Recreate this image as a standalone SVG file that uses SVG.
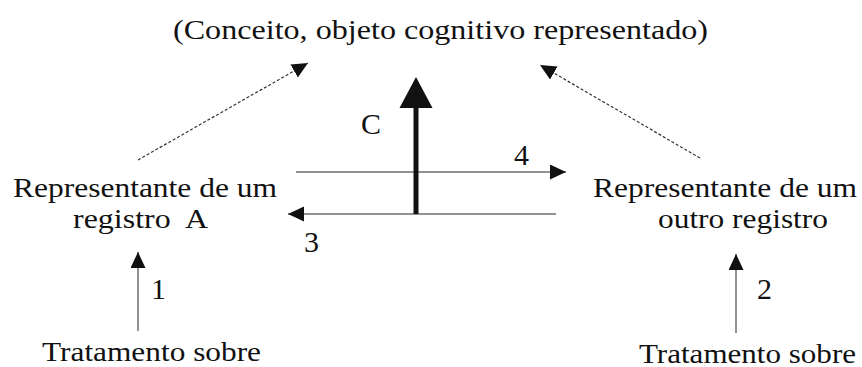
<svg xmlns="http://www.w3.org/2000/svg" width="862" height="367" viewBox="0 0 862 367">
<style>
  .t { font-size: 28px; }
  .lbl { font-size: 30px; }
  .thin { stroke: #6e6e6e; stroke-width: 1.5; fill: none; }
  .dash { stroke: #333; stroke-width: 1.2; stroke-dasharray: 3 2; fill: none; }
</style>
<defs>
  <marker id="ah" markerUnits="userSpaceOnUse" markerWidth="17" markerHeight="16" refX="16" refY="7.5" orient="auto">
    <path d="M0,0 L16,7.5 L0,15 Z" fill="#111"/>
  </marker>
</defs>
<rect width="862" height="367" fill="#fff"/>

<g font-family="Liberation Serif, DejaVu Serif, Times New Roman, serif" fill="#111">
<g id="conceito">
  <text class="t" x="173" y="39" textLength="535" lengthAdjust="spacingAndGlyphs">(Conceito, objeto cognitivo representado)</text>
</g>
<g id="representante-a">
  <text class="t" x="13" y="197" textLength="264" lengthAdjust="spacingAndGlyphs">Representante de um</text>
  <text class="t" x="73" y="228" textLength="135" lengthAdjust="spacingAndGlyphs" xml:space="preserve">registro  A</text>
</g>
<g id="representante-b">
  <text class="t" x="593" y="197" textLength="264" lengthAdjust="spacingAndGlyphs">Representante de um</text>
  <text class="t" x="658" y="228" textLength="170" lengthAdjust="spacingAndGlyphs">outro registro</text>
</g>
<g id="tratamento-a">
  <text class="t" x="42" y="361" textLength="219" lengthAdjust="spacingAndGlyphs">Tratamento sobre</text>
</g>
<g id="tratamento-b">
  <text class="t" x="639" y="363" textLength="217" lengthAdjust="spacingAndGlyphs">Tratamento sobre</text>
</g>
</g>

<g id="connectors">
  <line class="dash" x1="138" y1="160" x2="308" y2="63" marker-end="url(#ah)"/>
  <line class="dash" x1="700" y1="158" x2="540" y2="65" marker-end="url(#ah)"/>
  <line class="thin" x1="296" y1="172" x2="566" y2="172" marker-end="url(#ah)"/>
  <line class="thin" x1="556" y1="214" x2="288" y2="214" marker-end="url(#ah)"/>
  <line class="thin" x1="138" y1="331" x2="138" y2="252" marker-end="url(#ah)"/>
  <line class="thin" x1="736" y1="333" x2="736" y2="254" marker-end="url(#ah)"/>
  <line x1="416" y1="214" x2="416" y2="106" stroke="#111" stroke-width="5"/>
  <polygon points="416,77 399.5,108 432.5,108" fill="#111"/>
  <g font-family="Liberation Serif, DejaVu Serif, Times New Roman, serif" fill="#111">
    <text class="lbl" x="361" y="134">C</text>
    <text class="lbl" x="514" y="165">4</text>
    <text class="lbl" x="304" y="252">3</text>
    <text class="lbl" x="151" y="299">1</text>
    <text class="lbl" x="757" y="299">2</text>
  </g>
</g>
</svg>
